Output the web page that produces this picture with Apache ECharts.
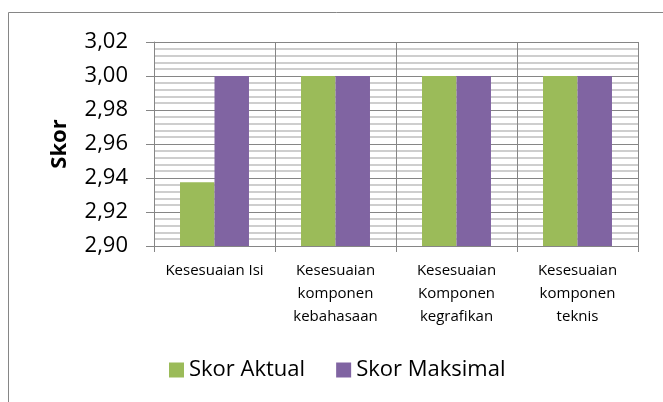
<!DOCTYPE html>
<html>
<head>
<meta charset="utf-8">
<script src="https://cdn.jsdelivr.net/npm/echarts@6/dist/echarts.min.js"></script>
<style>
  html, body { margin: 0; padding: 0; background: #fff; }
  #chart { width: 663px; height: 402px; }
</style>
</head>
<body>
<div id="chart"></div>
<script>
const categories = [
  "Kesesuaian Isi",
  "Kesesuaian\nkomponen\nkebahasaan",
  "Kesesuaian\nKomponen\nkegrafikan",
  "Kesesuaian\nkomponen\nteknis",
]
const skorAktual = [2.9375, 3.0, 3.0, 3.0]
const skorMaksimal = [3.0, 3.0, 3.0, 3.0]
const yTicks = { min: 2.9, max: 3.02, interval: 0.02 }

const font = "'Open Sans', sans-serif"
const myChart = echarts.init(document.getElementById("chart"))
const option = {
  animation: false,
  textStyle: { fontFamily: font },
  // bingkai luar
  graphic: [
    {
      type: "rect",
      shape: { x: 8.5, y: 12.5, width: 700, height: 420 },
      style: { fill: "none", stroke: "#868686", lineWidth: 1 },
      silent: true,
    },
  ],
  grid: { left: 154, top: 42, width: 484, height: 204, containLabel: false },
  legend: {
    data: ["Skor Aktual", "Skor Maksimal"],
    left: 164,
    top: 354,
    itemWidth: 15,
    itemHeight: 15,
    itemGap: 31,
    icon: "rect",
    textStyle: { fontSize: 22, color: "#000", fontFamily: font },
  },
  xAxis: {
    type: "category",
    data: categories,
    axisLine: { show: true, lineStyle: { color: "#868686" } },
    axisTick: { show: true, interval: 0, length: 6, lineStyle: { color: "#868686" } },
    splitLine: { show: true, interval: 0, lineStyle: { color: "#868686" } },
    axisLabel: {
      interval: 0,
      margin: 13,
      fontSize: 15,
      lineHeight: 23,
      color: "#000",
      fontFamily: font,
    },
  },
  yAxis: {
    type: "value",
    min: yTicks.min,
    max: yTicks.max,
    interval: yTicks.interval,
    name: "Skor",
    nameLocation: "middle",
    nameRotate: 90,
    nameGap: 83,
    nameTextStyle: { fontSize: 22, fontWeight: "bold", color: "#000", fontFamily: font },
    axisLine: { show: true, lineStyle: { color: "#868686" } },
    axisTick: { show: true, length: 8, lineStyle: { color: "#868686" } },
    axisLabel: {
      margin: 26,
      fontSize: 22,
      color: "#000",
      fontFamily: font,
      formatter: (v) => v.toFixed(2).replace(".", ","),
    },
    splitLine: { show: true, lineStyle: { color: "#868686" } },
    minorTick: { show: false, splitNumber: 5 },
    minorSplitLine: { show: true, lineStyle: { color: "#bfbfbf", width: 1.5 } },
  },
  series: [
    {
      name: "Skor Aktual",
      type: "bar",
      data: skorAktual,
      color: "#9bbb59",
      barGap: "0%",
      barCategoryGap: "43%",
    },
    {
      name: "Skor Maksimal",
      type: "bar",
      data: skorMaksimal,
      color: "#8064a2",
      barGap: "0%",
      barCategoryGap: "43%",
    },
  ],
}
myChart.setOption(option)
</script>
</body>
</html>
